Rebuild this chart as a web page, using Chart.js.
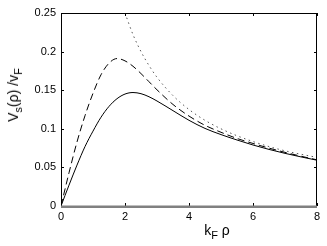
<!DOCTYPE html>
<html>
<head>
<meta charset="utf-8">
<script src="https://cdn.jsdelivr.net/npm/chart.js@4"></script>
<style>
  html, body { margin: 0; padding: 0; background: #fff; }
  #wrap { position: relative; width: 327px; height: 246px; }
  .lbl { position: absolute; font-family: "Liberation Sans", Arial, sans-serif; font-size: 14px; color: #000; white-space: nowrap; line-height: 1; }
  .lbl sub { font-size: 11px; vertical-align: -4px; }
  #ylab { left: 15px; top: 95px; transform: translate(-50%, -50%) rotate(-90deg); }
  #xlab { left: 217px; top: 232px; transform: translate(-50%, -50%); }
</style>
</head>
<body>
<div id="wrap">
  <canvas id="chart" width="327" height="246"></canvas>
  <div class="lbl" id="ylab">V<sub>s</sub>(ρ) /v<sub>F</sub></div>
  <div class="lbl" id="xlab">k<sub>F</sub> ρ</div>
</div>
<script>
// values
const rho = [0, 0.25, 0.5, 0.75, 1, 1.25, 1.5, 1.75, 2, 2.25, 2.5, 2.75, 3, 3.5, 4, 4.5, 5, 5.5, 6, 6.5, 7, 7.5, 8];
const solidV = [0, 0.027, 0.053, 0.077, 0.097, 0.115, 0.129, 0.139, 0.145, 0.147, 0.1455, 0.1415, 0.136, 0.1235, 0.111, 0.1005, 0.0925, 0.0855, 0.079, 0.0733, 0.0682, 0.0636, 0.0593];
const dashedV = [0, 0.043, 0.083, 0.117, 0.146, 0.170, 0.185, 0.191, 0.188, 0.181, 0.1715, 0.161, 0.1505, 0.1315, 0.1165, 0.1045, 0.0955, 0.0875, 0.081, 0.075, 0.0695, 0.0645, 0.0598];
const rhoDotted = [2.0, 2.25, 2.5, 2.75, 3, 3.5, 4, 4.5, 5, 5.5, 6, 6.5, 7, 7.5, 8];
const dottedV = [0.25, 0.222, 0.200, 0.182, 0.1667, 0.143, 0.125, 0.111, 0.100, 0.091, 0.0835, 0.077, 0.0715, 0.067, 0.063];
const xTicks = [0, 2, 4, 6, 8];
const yTicks = [0, 0.05, 0.1, 0.15, 0.2, 0.25];

const pts = (xs, ys) => xs.map((x, i) => ({ x: x, y: ys[i] }));

// MATLAB style box with inward ticks
const frame = {
  id: 'frame',
  afterDatasetsDraw(chart) {
    const { ctx, chartArea: a, scales } = chart;
    ctx.save();
    ctx.strokeStyle = '#000';
    ctx.lineWidth = 1;
    ctx.beginPath();
    ctx.moveTo(a.left + 0.5, a.bottom);
    ctx.lineTo(a.left + 0.5, a.top + 0.5);
    ctx.lineTo(a.right - 0.5, a.top + 0.5);
    ctx.lineTo(a.right - 0.5, a.bottom);
    const t = 3;
    xTicks.forEach(v => {
      const px = Math.round(scales.x.getPixelForValue(v)) + 0.5;
      ctx.moveTo(px, a.top); ctx.lineTo(px, a.top + t);
      ctx.moveTo(px, a.bottom); ctx.lineTo(px, a.bottom - t);
    });
    yTicks.forEach(v => {
      const py = Math.round(scales.y.getPixelForValue(v)) + 0.5;
      ctx.moveTo(a.left, py); ctx.lineTo(a.left + t, py);
      ctx.moveTo(a.right, py); ctx.lineTo(a.right - t, py);
    });
    ctx.stroke();
    ctx.fillStyle = '#808080';
    ctx.fillRect(a.left, a.bottom - 0.5, a.right - a.left, 2.5);
    ctx.restore();
  }
};

const tickFont = { family: '"Liberation Sans", Arial, sans-serif', size: 11 };

new Chart(document.getElementById('chart'), {
  type: 'line',
  data: {
    datasets: [
      { data: pts(rho, solidV), borderColor: '#000', borderWidth: 1 },
      { data: pts(rho, dashedV), borderColor: '#000', borderWidth: 1, borderDash: [7, 4] },
      { data: pts(rhoDotted, dottedV), borderColor: '#555', borderWidth: 1, borderDash: [1.5, 3.5] }
    ]
  },
  options: {
    responsive: false,
    animation: false,
    layout: { padding: { top: 13, right: 10, left: 0, bottom: 0 } },
    elements: { point: { radius: 0 }, line: { cubicInterpolationMode: 'monotone', fill: false } },
    plugins: { legend: { display: false }, tooltip: { enabled: false } },
    scales: {
      x: {
        type: 'linear', min: 0, max: 8,
        afterFit: s => { s.height = 40; },
        afterBuildTicks: s => { s.ticks = xTicks.map(v => ({ value: v })); },
        grid: { display: false, drawTicks: false },
        border: { display: false },
        ticks: { color: '#000', font: tickFont, padding: 4, maxRotation: 0 }
      },
      y: {
        min: 0, max: 0.25,
        afterFit: s => { s.width = 61; },
        afterBuildTicks: s => { s.ticks = yTicks.map(v => ({ value: v })); },
        grid: { display: false, drawTicks: false },
        border: { display: false },
        ticks: { color: '#000', font: tickFont, padding: 5, callback: v => String(+v.toFixed(2)) }
      }
    }
  },
  plugins: [frame]
});
</script>
</body>
</html>
